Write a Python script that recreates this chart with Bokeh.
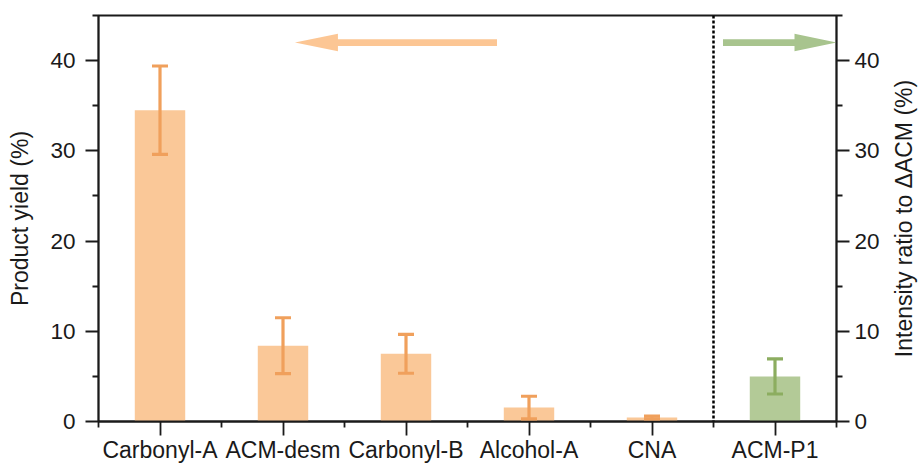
import numpy as np
from bokeh.plotting import figure
from bokeh.layouts import row
from bokeh.models import (Range1d, LinearAxis, FixedTicker, ColumnDataSource,
                          Whisker, TeeHead, Span, Label)
from bokeh.embed import file_html
from bokeh.resources import INLINE

# ---------------- data ----------------
categories = ["Carbonyl-A", "ACM-desm", "Carbonyl-B", "Alcohol-A", "CNA", "ACM-P1"]
yield_names = ["Carbonyl-A", "ACM-desm", "Carbonyl-B", "Alcohol-A", "CNA"]
yield_values = [34.5, 8.4, 7.5, 1.55, 0.45]
yield_errors = [4.9, 3.1, 2.15, 1.25, 0.15]
ratio_names = ["ACM-P1"]
ratio_values = [5.0]
ratio_errors = [1.95]
y_ticks = [0, 10, 20, 30, 40]
y_minor = [5, 15, 25, 35, 45]

# ---------------- styles ----------------
FONT = "Liberation Sans"
ORANGE = "#FAC898"
ORANGE_DARK = "#F0A05C"
GREEN = "#B3CA97"
GREEN_DARK = "#8CAD60"
ORANGE_ARROW = "#FCC694"
GREEN_ARROW = "#A8C48E"
INK = "#1a1a1a"

SIDE_W = 32
W, H = 918 - SIDE_W, 465
ML, MR, MT, MB = 98, W - 836, 15, 44
FRAME_W = W - ML - MR
FRAME_H = H - MT - MB
X0, X1 = 0.5, len(categories) + 0.5
Y0, Y1 = 0, 45

pos = {c: i + 1 for i, c in enumerate(categories)}

p = figure(width=W, height=H, output_backend="svg", toolbar_location=None,
           x_range=Range1d(X0, X1), y_range=Range1d(Y0, Y1),
           min_border_left=ML, min_border_right=MR, min_border_top=MT,
           min_border_bottom=MB, x_axis_location=None, y_axis_location=None)
p.extra_y_ranges = {"right": Range1d(Y0, Y1)}
p.xgrid.visible = False
p.ygrid.visible = False
p.outline_line_color = INK
p.outline_line_width = 1.8
p.background_fill_color = "white"
p.border_fill_color = "white"

# bars
src_l = ColumnDataSource(dict(
    x=[pos[c] for c in yield_names], top=yield_values,
    upper=[v + e for v, e in zip(yield_values, yield_errors)],
    lower=[v - e for v, e in zip(yield_values, yield_errors)]))
src_r = ColumnDataSource(dict(
    x=[pos[c] for c in ratio_names], top=ratio_values,
    upper=[v + e for v, e in zip(ratio_values, ratio_errors)],
    lower=[v - e for v, e in zip(ratio_values, ratio_errors)]))

p.vbar(x="x", top="top", bottom=0, width=0.41, source=src_l,
       fill_color=ORANGE, line_color=None)
p.vbar(x="x", top="top", bottom=0, width=0.41, source=src_r,
       fill_color=GREEN, line_color=None, y_range_name="right")

EW = 3.2
wl = Whisker(base="x", upper="upper", lower="lower", source=src_l, level="annotation",
             line_color=ORANGE_DARK, line_width=EW,
             upper_head=TeeHead(size=16, line_color=ORANGE_DARK, line_width=EW),
             lower_head=TeeHead(size=16, line_color=ORANGE_DARK, line_width=EW))
wr = Whisker(base="x", upper="upper", lower="lower", source=src_r, level="annotation",
             line_color=GREEN_DARK, line_width=EW, y_range_name="right",
             upper_head=TeeHead(size=16, line_color=GREEN_DARK, line_width=EW),
             lower_head=TeeHead(size=16, line_color=GREEN_DARK, line_width=EW))
p.add_layout(wl)
p.add_layout(wr)

# dotted separator between the two groups
p.add_layout(Span(location=pos["CNA"] + 0.5, dimension="height",
                  line_color="black", line_dash="3 2", line_width=2.5))

# arrows (annotation shapes, in data units built from pixel sizes)
px_x = FRAME_W / (X1 - X0)
px_y = FRAME_H / (Y1 - Y0)

def arrow(x_tail, x_tip, y, head_len_px=43, head_half_px=8.8, shaft_half_px=3.4):
    d = np.sign(x_tip - x_tail)
    hb = x_tip - d * head_len_px / px_x
    hh = head_half_px / px_y
    sh = shaft_half_px / px_y
    xs = [x_tail, hb, hb, x_tip, hb, hb, x_tail]
    ys = [y - sh, y - sh, y - hh, y, y + hh, y + sh, y + sh]
    return xs, ys

ax, ay = arrow(3.74, 2.097, 42)
p.patch(ax, ay, fill_color=ORANGE_ARROW, line_color=None)
gx, gy = arrow(5.577, 6.5, 42, head_len_px=42)
p.patch(gx, gy, fill_color=GREEN_ARROW, line_color=None)

# axes
def style(axis, tick_out, minor_out, size="22.5px"):
    axis.axis_line_color = INK
    axis.axis_line_width = 1.8
    axis.major_tick_line_color = INK
    axis.major_tick_line_width = 1.8
    axis.minor_tick_line_color = INK
    axis.minor_tick_line_width = 1.8
    axis.major_tick_in = 0
    axis.major_tick_out = tick_out
    axis.minor_tick_in = 0
    axis.minor_tick_out = minor_out
    axis.major_label_text_font = FONT
    axis.major_label_text_font_size = size
    axis.major_label_text_color = INK
    axis.axis_label_text_font = FONT
    axis.axis_label_text_font_size = "23px"
    axis.axis_label_text_font_style = "normal"
    axis.axis_label_text_color = INK

xt = [pos[c] for c in categories]
xb = LinearAxis(ticker=FixedTicker(ticks=xt,
                                   minor_ticks=[t - 0.5 for t in xt] + [xt[-1] + 0.5]),
                major_label_overrides={t: c for t, c in zip(xt, categories)})
style(xb, 14, 6, size="23px")
xb.major_label_standoff = 1
p.add_layout(xb, "below")

yl = LinearAxis(ticker=FixedTicker(ticks=y_ticks, minor_ticks=y_minor),
                axis_label="Product yield (%)")
style(yl, 13, 6)
yl.major_label_standoff = 10
yl.axis_label_standoff = 14
p.add_layout(yl, "left")

yr = LinearAxis(y_range_name="right",
                ticker=FixedTicker(ticks=y_ticks, minor_ticks=y_minor))
style(yr, 13, 6)
yr.major_label_standoff = 5
p.add_layout(yr, "right")

# right axis title in a narrow companion panel, reading bottom to top
side = figure(width=SIDE_W, height=H, output_backend="svg", toolbar_location=None,
              x_range=Range1d(0, 1), y_range=Range1d(Y0, Y1),
              min_border_left=0, min_border_right=0, min_border_top=MT,
              min_border_bottom=MB, x_axis_location=None, y_axis_location=None)
side.xgrid.visible = False
side.ygrid.visible = False
side.outline_line_color = None
side.background_fill_color = "white"
side.border_fill_color = "white"
side.add_layout(Label(x=0.55, y=(Y0 + Y1) / 2, text="Intensity ratio to \u0394ACM (%)",
                      angle=np.pi / 2, text_align="center", text_baseline="middle",
                      text_font=FONT, text_font_size="23px", text_color=INK))

layout = row(p, side, spacing=0)
open("out.html", "w").write(file_html(layout, INLINE))
